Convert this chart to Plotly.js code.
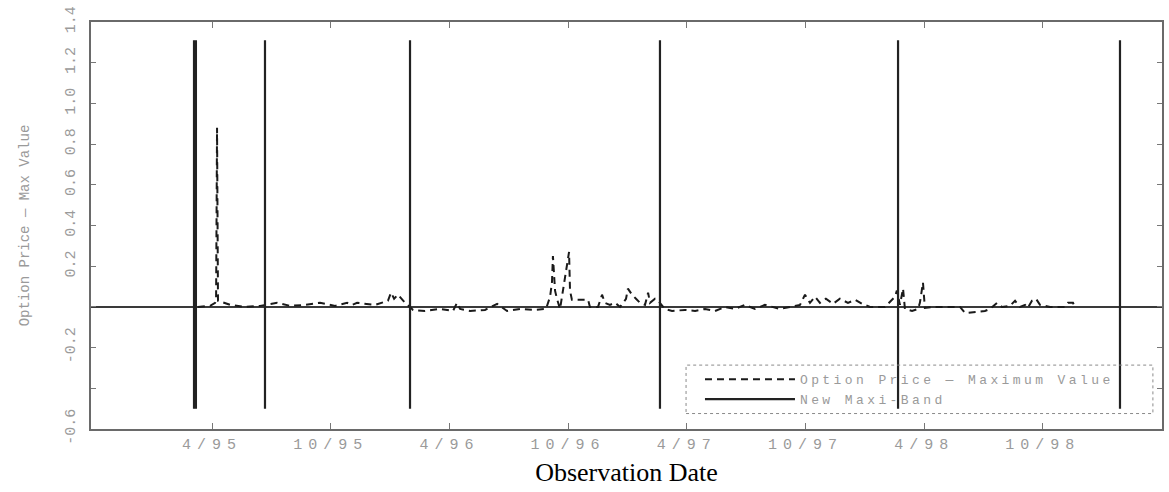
<!DOCTYPE html>
<html>
<head>
<meta charset="utf-8">
<script src="https://cdn.plot.ly/plotly-3.0.1.min.js"></script>
<style>
  html, body { margin: 0; padding: 0; background: #fff; }
  #chart { width: 1169px; height: 492px; }
  .xtick text { letter-spacing: 6px; }
  .legendtext { letter-spacing: 3.4px; }
</style>
</head>
<body>
<div id="chart"></div>
<script>
// Observation dates as decimal years
const optDates = [1995.190,1995.242,1995.263,1995.267,1995.271,1995.275,1995.326,1995.389,1995.452,1995.524,
  1995.579,1995.642,1995.705,1995.768,1995.819,1995.840,1995.861,1995.894,1995.937,1995.991,
  1996.004,1996.017,1996.033,1996.063,1996.097,1996.147,1996.210,1996.265,1996.282,1996.295,
  1996.337,1996.400,1996.451,1996.493,1996.547,1996.602,1996.657,1996.674,1996.682,1996.686,
  1996.695,1996.703,1996.716,1996.754,1996.758,1996.766,1996.834,1996.842,1996.876,1996.893,
  1996.905,1996.926,1996.948,1996.969,1996.994,1997.002,1997.019,1997.036,1997.053,1997.074,
  1997.087,1997.095,1997.116,1997.129,1997.158,1997.188,1997.242,1997.285,1997.327,1997.369,
  1997.411,1997.453,1997.495,1997.537,1997.579,1997.643,1997.685,1997.727,1997.748,1997.769,
  1997.790,1997.811,1997.836,1997.866,1997.895,1997.929,1997.959,1997.988,1998.022,1998.085,
  1998.127,1998.135,1998.148,1998.161,1998.169,1998.199,1998.224,1998.232,1998.245,1998.253,
  1998.296,1998.401,1998.422,1998.506,1998.527,1998.557,1998.578,1998.611,1998.633,1998.654,
  1998.675,1998.687,1998.704,1998.721,1998.738,1998.759,1998.780,1998.843,1998.856,1998.877,
  1998.885];
// Option price minus maximum value
const optValues = [0.00,0.005,0.02,0.03,0.88,0.03,0.01,0.00,0.005,0.02,
  0.005,0.01,0.02,0.005,0.02,0.01,0.02,0.015,0.01,0.03,
  0.07,0.04,0.06,0.02,-0.015,-0.02,-0.01,-0.02,0.02,-0.01,
  -0.02,-0.015,0.015,-0.02,-0.01,-0.015,-0.01,0.05,0.12,0.25,
  0.08,0.04,-0.01,0.27,0.08,0.035,0.035,0.00,0.00,0.06,
  0.02,0.01,0.02,0.00,0.04,0.09,0.06,0.04,0.02,0.01,
  0.07,0.02,0.04,0.03,-0.01,-0.02,-0.015,-0.02,-0.01,-0.02,
  0.00,-0.01,0.01,-0.01,0.01,-0.01,0.00,0.01,0.06,0.02,
  0.05,0.02,0.04,0.015,0.04,0.02,0.035,0.015,0.00,0.00,
  0.05,0.08,0.01,0.09,-0.01,-0.02,-0.01,0.02,0.12,-0.005,
  0.00,0.00,-0.03,-0.02,-0.01,0.02,0.00,0.005,0.03,0.00,
  0.01,-0.005,0.03,0.04,0.01,0.005,0.00,0.00,0.02,0.02,
  0.00];
// New maxi-band dates
const bandDates = [1995.174, 1995.182, 1995.473, 1996.084, 1997.137, 1998.140, 1999.075];
const bandTop = 1.31;
const bandBottom = -0.5;

const xTickVals = [1995.25,1995.75,1996.25,1996.75,1997.25,1997.75,1998.25,1998.75];
const xTickText = ['4/95','10/95','4/96','10/96','4/97','10/97','4/98','10/98'];
const yTickVals = [-0.6,-0.4,-0.2,0,0.2,0.4,0.6,0.8,1.0,1.2,1.4];
const yTickText = ['-0.6','','-0.2','','0.2','0.4','0.6','0.8','1.0','1.2','1.4'];

const seriesNames = ['Option Price \u2014 Maximum Value', 'New Maxi-Band'];

const bandX = [], bandY = [];
bandDates.forEach(d => { bandX.push(d, d, null); bandY.push(bandTop, bandBottom, null); });

const mono = 'Liberation Mono, DejaVu Sans Mono, monospace';
const grey = '#9a9a9a';

const traces = [
  {
    x: optDates, y: optValues, type: 'scatter', mode: 'lines',
    name: seriesNames[0],
    line: {color: '#1a1a1a', width: 2, dash: '7px,5px'}
  },
  {
    x: bandX, y: bandY, type: 'scatter', mode: 'lines',
    name: seriesNames[1], connectgaps: false,
    line: {color: '#222', width: 2.2}
  }
];

const layout = {
  width: 1169, height: 492,
  margin: {l: 91, r: 7, t: 22, b: 63},
  paper_bgcolor: '#fff', plot_bgcolor: '#fff',
  showlegend: true,
  legend: {
    x: 0.5686, y: 0.159, xanchor: 'left', yanchor: 'top',
    bgcolor: 'rgba(0,0,0,0)', borderwidth: 0,
    font: {family: mono, size: 13, color: grey},
    itemwidth: 90, tracegroupgap: 0
  },
  xaxis: {
    range: [1994.740, 1999.252],
    tickmode: 'array', tickvals: xTickVals, ticktext: xTickText,
    ticks: 'inside', ticklen: 6, tickcolor: '#777', tickwidth: 1,
    showline: true, linecolor: '#6a6a6a', linewidth: 2, mirror: 'ticks',
    showgrid: false, zeroline: false,
    tickfont: {family: mono, size: 15, color: grey},
    title: {text: 'Observation Date', font: {family: 'Liberation Serif, Times New Roman, serif', size: 26, color: '#000'}, standoff: 10}
  },
  yaxis: {
    range: [-0.6, 1.4],
    tickmode: 'array', tickvals: yTickVals, ticktext: yTickText,
    ticks: 'inside', ticklen: 5, tickcolor: '#777', tickwidth: 1,
    showline: true, linecolor: '#6a6a6a', linewidth: 2, mirror: 'ticks',
    showgrid: false,
    zeroline: true, zerolinecolor: '#3a3a3a', zerolinewidth: 1.5,
    tickangle: -90, ticklabelstandoff: 8,
    tickfont: {family: mono, size: 15, color: grey},
    title: {text: 'Option Price \u2014 Max Value', font: {family: mono, size: 14, color: grey}, standoff: 30}
  },
  shapes: [
    {type: 'rect', xref: 'paper', yref: 'paper', x0: 0.5556, x1: 0.9915, y0: 0.038, y1: 0.157,
     line: {color: '#8a8a8a', width: 1, dash: 'dot'}, fillcolor: 'rgba(0,0,0,0)'}
  ]
};

Plotly.newPlot('chart', traces, layout, {displayModeBar: false, staticPlot: true});
</script>
</body>
</html>
